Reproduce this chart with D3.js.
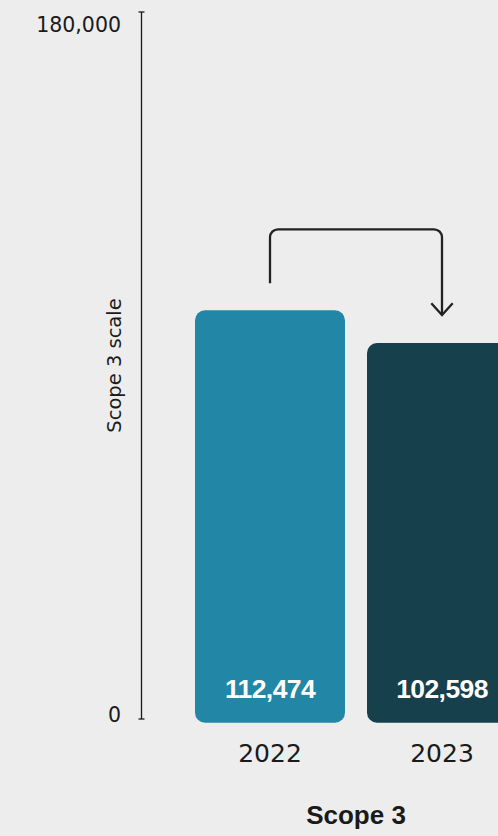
<!DOCTYPE html>
<html>
<head>
<meta charset="utf-8">
<script src="https://cdn.jsdelivr.net/npm/d3@7"></script>
<style>
  html, body { margin: 0; padding: 0; background: #ededed; }
  svg { display: block; }
</style>
</head>
<body>
<div id="chart"></div>
<script>
// Chart data
const years = ["2022", "2023"];
const emissions = [112474, 102598];
const axisTicks = [0, 180000];
const axisTitle = "Scope 3 scale";
const chartTitle = "Scope 3";
const barColors = ["#2286a6", "#17404d"];

const width = 498;
const height = 836;

const svg = d3.select("#chart")
    .append("svg")
    .attr("width", width)
    .attr("height", height);

// Axis scale (the drawn ruler)
const yAxis = d3.scaleLinear()
    .domain([0, 180000])
    .range([719, 12]);

// Bar scale - bars sit on a label strip below zero
const yBar = d3.scaleLinear()
    .domain([0, 180000])
    .range([682.7, 86.7]);
const labelPad = 40;
const barBottom = yBar(0) + labelPad;

const x = d3.scaleBand()
    .domain(years)
    .range([184, 528])
    .paddingInner(0.128)
    .paddingOuter(0.064);

const axisX = 141.5;
const ink = "#1a1a1a";

// Vertical ruler
svg.append("line")
    .attr("x1", axisX).attr("x2", axisX)
    .attr("y1", yAxis(180000)).attr("y2", yAxis(0))
    .attr("stroke", ink)
    .attr("stroke-width", 1.3);

svg.selectAll(".cap")
    .data(axisTicks)
    .enter()
    .append("line")
    .attr("class", "cap")
    .attr("x1", axisX - 3).attr("x2", axisX + 3)
    .attr("y1", d => yAxis(d)).attr("y2", d => yAxis(d))
    .attr("stroke", ink)
    .attr("stroke-width", 1.3);

// Tick labels (top one hangs below its cap, bottom one sits above)
svg.selectAll(".tick-label")
    .data(axisTicks)
    .enter()
    .append("text")
    .attr("class", "tick-label")
    .attr("x", 121)
    .attr("y", d => yAxis(d) + (d === 0 ? 2.5 : 20))
    .attr("text-anchor", "end")
    .style("font-family", "DejaVu Sans, sans-serif")
    .style("font-size", "20.5px")
    .attr("fill", ink)
    .text(d => d3.format(",")(d));

// Axis title
svg.append("text")
    .attr("transform", `translate(121, ${365.5}) rotate(-90)`)
    .attr("text-anchor", "middle")
    .style("font-family", "DejaVu Sans, sans-serif")
    .style("font-size", "19.5px")
    .attr("fill", ink)
    .text(axisTitle);

// Bars
svg.selectAll(".bar")
    .data(years)
    .enter()
    .append("rect")
    .attr("class", "bar")
    .attr("x", d => x(d))
    .attr("y", (d, i) => yBar(emissions[i]))
    .attr("width", x.bandwidth())
    .attr("height", (d, i) => barBottom - yBar(emissions[i]))
    .attr("rx", 10)
    .attr("fill", (d, i) => barColors[i]);

// Value labels inside bars
svg.selectAll(".value")
    .data(years)
    .enter()
    .append("text")
    .attr("class", "value")
    .attr("x", d => x(d) + x.bandwidth() / 2)
    .attr("y", barBottom - 24.5)
    .attr("text-anchor", "middle")
    .style("font-family", "Liberation Sans, Arial, sans-serif")
    .style("font-weight", "bold")
    .style("font-size", "26.5px")
    .style("letter-spacing", "-0.6px")
    .attr("fill", "#ffffff")
    .text((d, i) => d3.format(",")(emissions[i]));

// Year labels
svg.selectAll(".year")
    .data(years)
    .enter()
    .append("text")
    .attr("class", "year")
    .attr("x", d => x(d) + x.bandwidth() / 2)
    .attr("y", 762.3)
    .attr("text-anchor", "middle")
    .style("font-family", "DejaVu Sans, sans-serif")
    .style("font-size", "25px")
    .attr("fill", ink)
    .text(d => d);

// Chart title
svg.append("text")
    .attr("x", (x.range()[0] + x.range()[1]) / 2)
    .attr("y", 824.3)
    .attr("text-anchor", "middle")
    .style("font-family", "Liberation Sans, Arial, sans-serif")
    .style("font-weight", "bold")
    .style("font-size", "26px")
    .attr("fill", ink)
    .text(chartTitle);

// Bracket arrow from 2022 to 2023
const x1 = x(years[0]) + x.bandwidth() / 2;
const x2 = x(years[1]) + x.bandwidth() / 2;
const yStart = yBar(emissions[0]) - 27;
const yEnd = yBar(emissions[1]) - 28;
const yTop = yBar(emissions[0]) - 81;
const r = 8;

const path = d3.path();
path.moveTo(x1, yStart);
path.lineTo(x1, yTop + r);
path.arcTo(x1, yTop, x1 + r, yTop, r);
path.lineTo(x2 - r, yTop);
path.arcTo(x2, yTop, x2, yTop + r, r);
path.lineTo(x2, yEnd);

svg.append("path")
    .attr("d", path.toString())
    .attr("fill", "none")
    .attr("stroke", "#222")
    .attr("stroke-width", 2.3);

svg.append("path")
    .attr("d", `M${x2 - 10.7},${yEnd - 11.7} L${x2},${yEnd} L${x2 + 10.7},${yEnd - 11.7}`)
    .attr("fill", "none")
    .attr("stroke", "#222")
    .attr("stroke-width", 2.3);
</script>
</body>
</html>
